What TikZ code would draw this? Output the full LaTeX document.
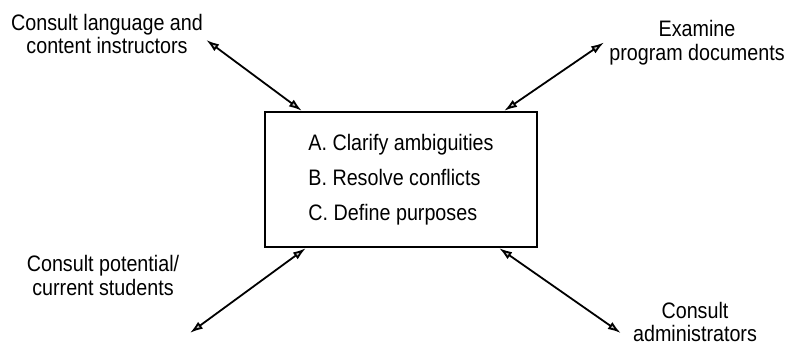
\documentclass[tikz,border=0pt]{standalone}
\usepackage{fontspec}
\setmainfont{Liberation Sans}[FakeStretch=0.88]
\usetikzlibrary{arrows.meta, positioning}
\tikzset{
    dbl/.style = {{Latex[length=6.5pt, width=4.2pt, fill=gray!45]}-{Latex[length=6.5pt, width=4.2pt, fill=gray!45]}, line width=0.9pt}
}
\begin{document}
\begin{tikzpicture}[x=0.5pt, y=-0.5pt]
        \useasboundingbox (0,0) rectangle (788,346);
        \begin{scope}[every node/.style = {font=\fontsize{11.2}{11.8}\selectfont, align=center, inner sep=0pt}]
        \node[draw, line width=1.2pt, minimum width=136pt, minimum height=67.5pt, align=left,
              font=\fontsize{11.2}{17.5}\selectfont] (B) at (401,179.5)
              {A. Clarify ambiguities\\B. Resolve conflicts\\C. Define purposes};
        \node (L1) at (107,34) {Consult language and\\content instructors};
        \node (L2) at (697,42.5) {Examine\\program documents};
        \node (L3) at (103,275.5) {Consult potential/\\current students};
        \node (L4) at (695,322) {Consult\\administrators};
        \draw[dbl] ([xshift=1.5pt, yshift=-3pt]L1.east) -- ([xshift=19pt]B.north west);
        \draw[dbl] ([xshift=-2.5pt]L2.west) -- ([xshift=-17pt]B.north east);
        \draw[dbl] ([xshift=43.5pt, yshift=-18.5pt]L3.south) -- ([xshift=21pt]B.south west);
        \draw[dbl] ([xshift=-6pt, yshift=-5.5pt]L4.west) -- ([xshift=-19.5pt]B.south east);
    \end{scope}
    \end{tikzpicture}
\end{document}
